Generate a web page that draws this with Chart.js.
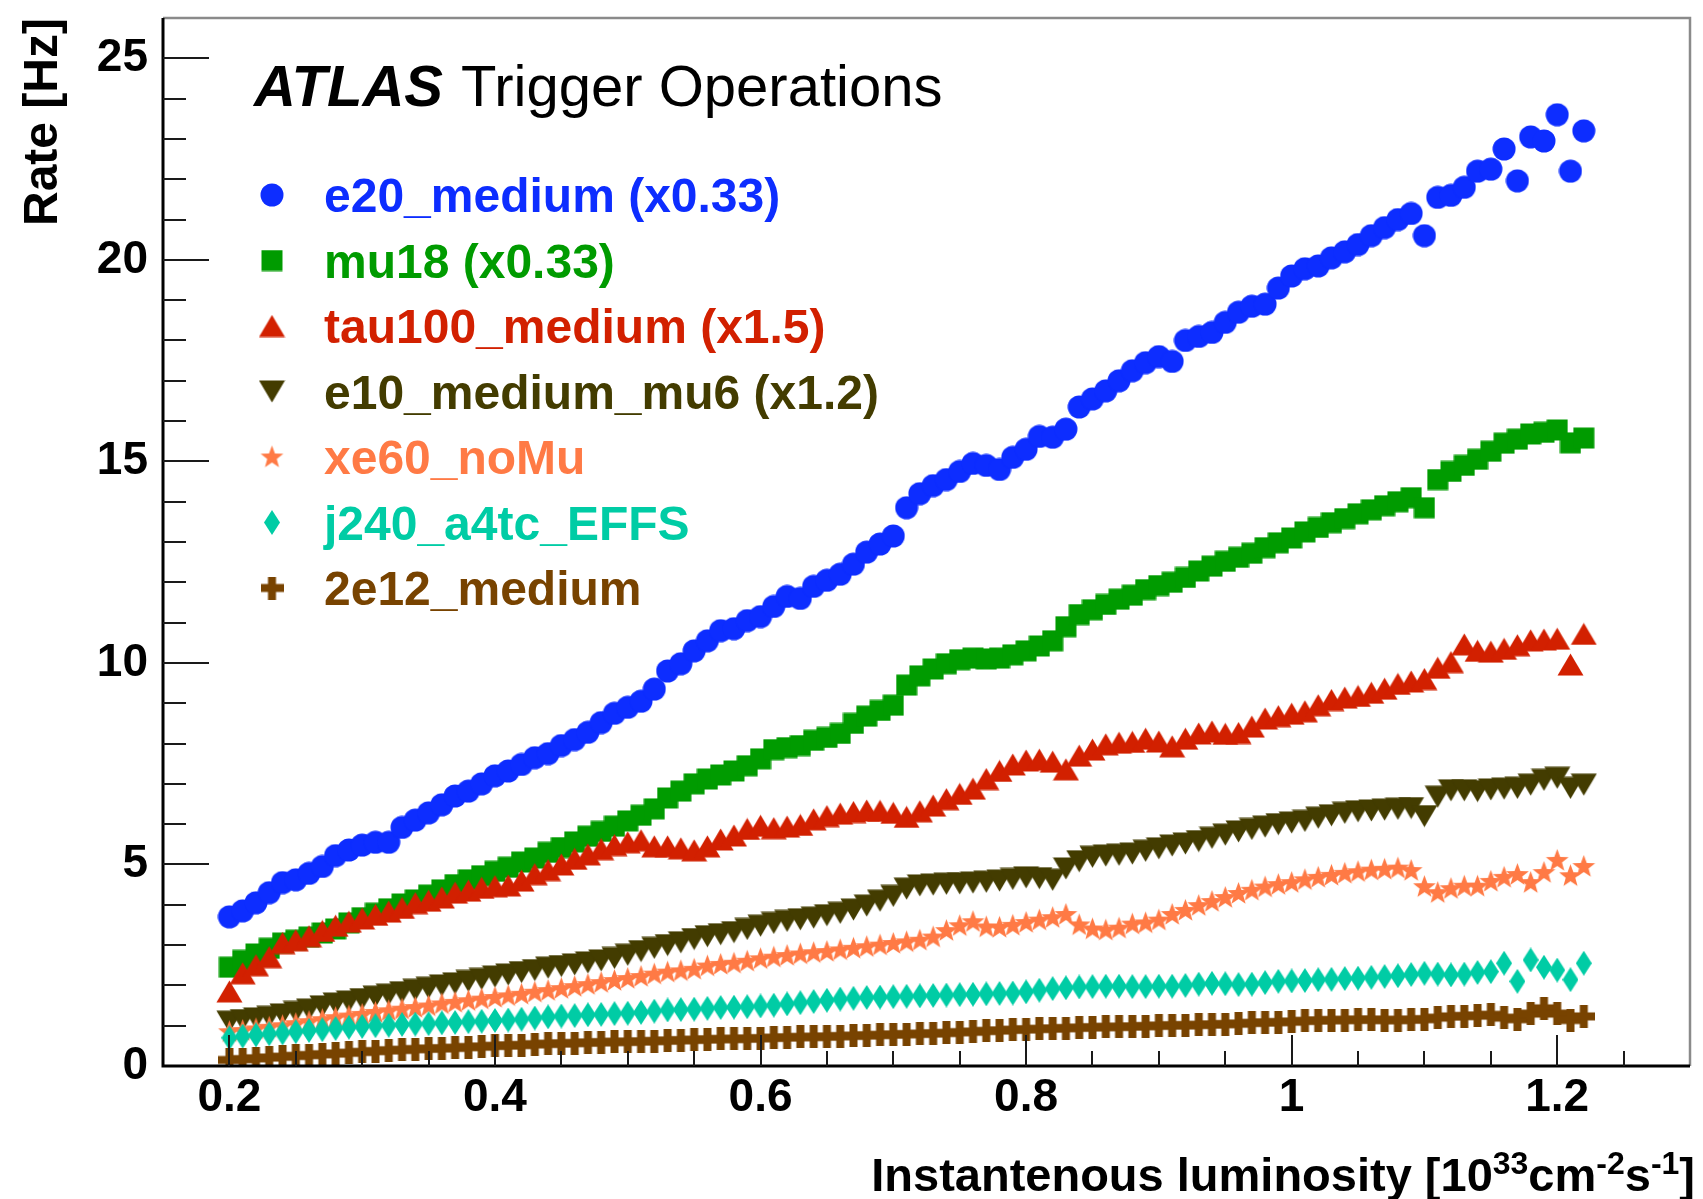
<!DOCTYPE html>
<html>
<head>
<meta charset="utf-8">
<title>Trigger rates vs instantaneous luminosity</title>
<script src="https://cdn.jsdelivr.net/npm/chart.js@4.4.1/dist/chart.umd.min.js"></script>
<style>
  html, body { margin: 0; padding: 0; background: #fff; }
  canvas { display: block; }
</style>
</head>
<body>
<canvas id="rateChart" width="1703" height="1199"></canvas>
<script>
// luminosity bins [10^33 cm^-2 s^-1]
const lumi = [
  0.20, 0.21, 0.22, 0.23, 0.24, 0.25, 0.26, 0.27, 0.28, 0.29,
  0.30, 0.31, 0.32, 0.33, 0.34, 0.35, 0.36, 0.37, 0.38, 0.39,
  0.40, 0.41, 0.42, 0.43, 0.44, 0.45, 0.46, 0.47, 0.48, 0.49,
  0.50, 0.51, 0.52, 0.53, 0.54, 0.55, 0.56, 0.57, 0.58, 0.59,
  0.60, 0.61, 0.62, 0.63, 0.64, 0.65, 0.66, 0.67, 0.68, 0.69,
  0.70, 0.71, 0.72, 0.73, 0.74, 0.75, 0.76, 0.77, 0.78, 0.79,
  0.80, 0.81, 0.82, 0.83, 0.84, 0.85, 0.86, 0.87, 0.88, 0.89,
  0.90, 0.91, 0.92, 0.93, 0.94, 0.95, 0.96, 0.97, 0.98, 0.99,
  1.00, 1.01, 1.02, 1.03, 1.04, 1.05, 1.06, 1.07, 1.08, 1.09,
  1.10, 1.11, 1.12, 1.13, 1.14, 1.15, 1.16, 1.17, 1.18, 1.19,
  1.20, 1.21, 1.22
];

// rates [Hz], already scaled as written in the legend
const e20Medium = [
  3.70, 3.85, 4.05, 4.30, 4.55, 4.62, 4.78, 4.95, 5.22, 5.36,
  5.48, 5.55, 5.55, 5.92, 6.10, 6.28, 6.48, 6.70, 6.82, 7.00,
  7.20, 7.32, 7.48, 7.65, 7.75, 7.95, 8.10, 8.28, 8.52, 8.75,
  8.90, 9.05, 9.35, 9.80, 9.98, 10.30, 10.55, 10.80, 10.85, 11.05,
  11.15, 11.40, 11.65, 11.60, 11.90, 12.05, 12.20, 12.45, 12.75, 12.95,
  13.15, 13.85, 14.20, 14.40, 14.55, 14.75, 14.95, 14.90, 14.80, 15.10,
  15.30, 15.62, 15.60, 15.80, 16.35, 16.55, 16.75, 17.00, 17.25, 17.45,
  17.60, 17.48, 18.00, 18.10, 18.20, 18.45, 18.70, 18.85, 18.90, 19.30,
  19.60, 19.78, 19.85, 20.05, 20.20, 20.38, 20.60, 20.80, 21.00, 21.15,
  20.60, 21.55, 21.60, 21.80, 22.20, 22.25, 22.75, 21.96, 23.05, 22.95,
  23.60, 22.20, 23.20
];
const mu18 = [
  2.45, 2.62, 2.78, 2.92, 3.05, 3.12, 3.20, 3.30, 3.40, 3.55,
  3.68, 3.79, 3.90, 4.02, 4.12, 4.24, 4.37, 4.50, 4.62, 4.72,
  4.83, 4.93, 5.06, 5.16, 5.30, 5.42, 5.56, 5.70, 5.82, 5.95,
  6.08, 6.22, 6.38, 6.65, 6.82, 7.00, 7.12, 7.22, 7.32, 7.45,
  7.62, 7.85, 7.90, 7.95, 8.08, 8.15, 8.25, 8.50, 8.68, 8.82,
  8.95, 9.45, 9.68, 9.85, 9.98, 10.08, 10.12, 10.10, 10.12, 10.20,
  10.30, 10.42, 10.55, 10.90, 11.20, 11.32, 11.45, 11.58, 11.68, 11.82,
  11.92, 12.00, 12.12, 12.28, 12.40, 12.52, 12.62, 12.72, 12.86, 12.98,
  13.10, 13.25, 13.36, 13.48, 13.58, 13.70, 13.80, 13.90, 14.00, 14.10,
  13.85, 14.55, 14.75, 14.90, 15.05, 15.25, 15.45, 15.55, 15.68, 15.72,
  15.78, 15.46, 15.58
];
const tau100Medium = [
  1.85, 2.30, 2.50, 2.70, 3.05, 3.12, 3.22, 3.35, 3.48, 3.58,
  3.66, 3.75, 3.83, 3.92, 4.04, 4.10, 4.18, 4.30, 4.35, 4.42,
  4.46, 4.48, 4.60, 4.76, 4.86, 5.00, 5.14, 5.25, 5.38, 5.48,
  5.55, 5.60, 5.45, 5.45, 5.40, 5.35, 5.45, 5.62, 5.72, 5.88,
  5.96, 5.90, 5.94, 5.98, 6.12, 6.20, 6.26, 6.30, 6.34, 6.33,
  6.28, 6.18, 6.32, 6.46, 6.62, 6.75, 6.88, 7.12, 7.32, 7.48,
  7.58, 7.60, 7.55, 7.36, 7.70, 7.85, 7.98, 8.02, 8.04, 8.12,
  8.05, 7.93, 8.12, 8.25, 8.30, 8.24, 8.26, 8.42, 8.62, 8.68,
  8.74, 8.80, 8.95, 9.08, 9.14, 9.18, 9.26, 9.36, 9.48, 9.54,
  9.60, 9.88, 10.02, 10.46, 10.30, 10.28, 10.35, 10.44, 10.56, 10.58,
  10.60, 9.96, 10.72
];
const e10MediumMu6 = [
  1.10, 1.14, 1.18, 1.22, 1.28, 1.34, 1.40, 1.48, 1.55, 1.60,
  1.66, 1.72, 1.77, 1.83, 1.89, 1.94, 2.00, 2.05, 2.11, 2.16,
  2.22, 2.27, 2.33, 2.38, 2.44, 2.48, 2.52, 2.57, 2.62, 2.68,
  2.76, 2.85, 2.93, 3.00, 3.07, 3.15, 3.22, 3.27, 3.32, 3.40,
  3.48, 3.55, 3.60, 3.64, 3.68, 3.74, 3.80, 3.88, 3.98, 4.10,
  4.22, 4.40, 4.48, 4.50, 4.52, 4.53, 4.55, 4.57, 4.60, 4.64,
  4.68, 4.66, 4.62, 4.90, 5.08, 5.19, 5.22, 5.24, 5.27, 5.34,
  5.40, 5.47, 5.52, 5.58, 5.66, 5.74, 5.82, 5.88, 5.94, 6.00,
  6.04, 6.08, 6.16, 6.22, 6.28, 6.32, 6.34, 6.36, 6.38, 6.40,
  6.20, 6.68, 6.84, 6.84, 6.82, 6.86, 6.88, 6.90, 6.98, 7.10,
  7.15, 6.90, 6.98
];
const xe60NoMu = [
  0.85, 0.88, 0.92, 0.96, 1.00, 1.05, 1.10, 1.15, 1.20, 1.24,
  1.28, 1.33, 1.37, 1.41, 1.45, 1.49, 1.54, 1.58, 1.62, 1.66,
  1.70, 1.74, 1.78, 1.83, 1.87, 1.92, 1.97, 2.02, 2.07, 2.12,
  2.17, 2.22, 2.28, 2.33, 2.36, 2.40, 2.48, 2.52, 2.55, 2.60,
  2.66, 2.70, 2.74, 2.78, 2.81, 2.84, 2.88, 2.92, 2.96, 3.00,
  3.04, 3.08, 3.12, 3.20, 3.36, 3.48, 3.58, 3.45, 3.44, 3.49,
  3.56, 3.62, 3.68, 3.76, 3.50, 3.40, 3.37, 3.42, 3.52, 3.55,
  3.62, 3.76, 3.86, 3.98, 4.08, 4.18, 4.28, 4.36, 4.44, 4.50,
  4.55, 4.62, 4.68, 4.73, 4.78, 4.82, 4.86, 4.88, 4.91, 4.85,
  4.45, 4.30, 4.40, 4.46, 4.46, 4.58, 4.68, 4.75, 4.55, 4.80,
  5.10, 4.72, 4.95
];
const j240A4tcEFFS = [
  0.70, 0.74, 0.77, 0.80, 0.82, 0.85, 0.88, 0.90, 0.93, 0.96,
  0.98, 1.00, 1.01, 1.03, 1.04, 1.05, 1.07, 1.08, 1.10, 1.11,
  1.13, 1.14, 1.16, 1.19, 1.22, 1.24, 1.25, 1.27, 1.28, 1.30,
  1.31, 1.33, 1.36, 1.39, 1.40, 1.41, 1.43, 1.45, 1.46, 1.47,
  1.49, 1.51, 1.54, 1.57, 1.60, 1.63, 1.66, 1.68, 1.70, 1.71,
  1.72, 1.73, 1.74, 1.75, 1.76, 1.77, 1.78, 1.79, 1.80, 1.81,
  1.84, 1.88, 1.92, 1.94, 1.96, 1.97, 1.98, 1.98, 1.97, 1.97,
  1.98, 1.98, 2.00, 2.03, 2.05, 2.04, 2.02, 2.03, 2.07, 2.10,
  2.11, 2.12, 2.14, 2.15, 2.17, 2.18, 2.20, 2.22, 2.24, 2.27,
  2.30, 2.28, 2.26, 2.28, 2.32, 2.34, 2.55, 2.10, 2.63, 2.45,
  2.38, 2.14, 2.55
];
const twoE12Medium = [
  0.15, 0.17, 0.19, 0.21, 0.23, 0.25, 0.27, 0.29, 0.31, 0.33,
  0.35, 0.37, 0.39, 0.40, 0.42, 0.43, 0.44, 0.45, 0.47, 0.48,
  0.50, 0.51, 0.52, 0.54, 0.55, 0.56, 0.57, 0.58, 0.59, 0.60,
  0.60, 0.61, 0.62, 0.63, 0.64, 0.65, 0.66, 0.67, 0.67, 0.68,
  0.69, 0.70, 0.71, 0.72, 0.72, 0.73, 0.74, 0.75, 0.76, 0.77,
  0.78, 0.79, 0.80, 0.81, 0.82, 0.84, 0.85, 0.87, 0.88, 0.90,
  0.91, 0.92, 0.93, 0.94, 0.95, 0.96, 0.97, 0.97, 0.98, 0.99,
  1.00, 1.01, 1.01, 1.02, 1.03, 1.04, 1.05, 1.07, 1.08, 1.09,
  1.10, 1.12, 1.13, 1.14, 1.14, 1.15, 1.15, 1.14, 1.14, 1.15,
  1.16, 1.20, 1.23, 1.24, 1.25, 1.27, 1.20, 1.16, 1.30, 1.43,
  1.30, 1.14, 1.23
];

const seriesNames = [
  'e20_medium (x0.33)', 'mu18 (x0.33)', 'tau100_medium (x1.5)',
  'e10_medium_mu6 (x1.2)', 'xe60_noMu', 'j240_a4tc_EFFS', '2e12_medium'
];
const seriesValues = [e20Medium, mu18, tau100Medium, e10MediumMu6, xe60NoMu, j240A4tcEFFS, twoE12Medium];

const xMajorTicks = [0.2, 0.4, 0.6, 0.8, 1, 1.2];
const yMajorTicks = [0, 5, 10, 15, 20, 25];

// styling
const FONT = "'Liberation Sans', Arial, Helvetica, sans-serif";
const seriesColors = ['#0d2dff', '#009b00', '#d22000', '#433c00', '#ff7a45', '#00cca5', '#784300'];
const seriesMarkers = ['circle', 'square', 'triangle', 'triangleDown', 'star', 'diamond', 'plus'];

// ROOT-like filled markers, drawn once into small canvases
function makeMarker(shape, color) {
  const c = document.createElement('canvas');
  const dims = {
    circle: [24, 24], square: [22, 22], triangle: [27, 23], triangleDown: [27, 23],
    star: [25, 25], diamond: [16, 25], plus: [23, 23]
  }[shape];
  c.width = dims[0];
  c.height = dims[1];
  const g = c.getContext('2d');
  g.fillStyle = color;
  g.beginPath();
  switch (shape) {
    case 'circle':
      g.arc(12, 12, 11.5, 0, Math.PI * 2);
      break;
    case 'square':
      g.rect(0.5, 0.5, 21, 21);
      break;
    case 'triangle':
      g.moveTo(13.5, 0.5); g.lineTo(26.5, 22.5); g.lineTo(0.5, 22.5);
      break;
    case 'triangleDown':
      g.moveTo(0.5, 0.5); g.lineTo(26.5, 0.5); g.lineTo(13.5, 22.5);
      break;
    case 'star':
      for (let k = 0; k < 10; k++) {
        const r = k % 2 === 0 ? 12 : 5;
        const a = -Math.PI / 2 + k * Math.PI / 5;
        const px = 12.5 + r * Math.cos(a), py = 13 + r * Math.sin(a);
        if (k === 0) g.moveTo(px, py); else g.lineTo(px, py);
      }
      break;
    case 'diamond':
      g.moveTo(8, 0); g.lineTo(16, 12.5); g.lineTo(8, 25); g.lineTo(0, 12.5);
      break;
    case 'plus':
      g.rect(0, 7.5, 23, 8);
      g.rect(7.5, 0, 8, 23);
      break;
  }
  g.closePath();
  g.fill();
  return c;
}

const markerImages = seriesMarkers.map((m, i) => makeMarker(m, seriesColors[i]));

const nearOneOf = (v, list) => list.some(t => Math.abs(v - t) < 1e-6);

const datasets = seriesValues.map((vals, i) => ({
  label: seriesNames[i],
  data: lumi.map((x, j) => ({ x: x, y: vals[j] })),
  pointStyle: markerImages[i],
  pointRadius: 12,
  borderColor: seriesColors[i],
  backgroundColor: seriesColors[i],
  // first series drawn first, later ones on top
  order: seriesValues.length - i
}));

function drawXTitle(ctx, right, baseline) {
  const parts = [
    ['Instantenous luminosity [10', false],
    ['33', true],
    ['cm', false],
    ['-2', true],
    ['s', false],
    ['-1', true],
    [']', false]
  ];
  const big = 'bold 47px ' + FONT;
  const small = 'bold 32px ' + FONT;
  let total = 0;
  parts.forEach(([t, sup]) => {
    ctx.font = sup ? small : big;
    total += ctx.measureText(t).width;
  });
  let x = right - total;
  parts.forEach(([t, sup]) => {
    ctx.font = sup ? small : big;
    ctx.fillText(t, x, sup ? baseline - 17 : baseline);
    x += ctx.measureText(t).width;
  });
}

const rootStyle = {
  id: 'rootStyle',
  beforeDraw(chart) {
    const ctx = chart.ctx;
    ctx.save();
    ctx.fillStyle = '#fff';
    ctx.fillRect(0, 0, chart.width, chart.height);
    ctx.restore();
  },
  afterDatasetsDraw(chart) {
    const { ctx, chartArea: a, scales: { x, y } } = chart;
    ctx.save();

    // upper and right edges of the frame
    ctx.strokeStyle = '#8a8a8a';
    ctx.lineWidth = 2.5;
    ctx.beginPath();
    ctx.moveTo(a.left, a.top);
    ctx.lineTo(a.right, a.top);
    ctx.lineTo(a.right, a.bottom);
    ctx.stroke();

    // axes
    ctx.strokeStyle = '#000';
    ctx.lineWidth = 3;
    ctx.beginPath();
    ctx.moveTo(a.left, a.top);
    ctx.lineTo(a.left, a.bottom);
    ctx.lineTo(a.right, a.bottom);
    ctx.stroke();

    // tick marks pointing into the frame
    ctx.lineWidth = 2;
    ctx.strokeStyle = '#1a1a1a';
    ctx.beginPath();
    y.ticks.forEach(t => {
      if (t.value <= y.min + 1e-6 || t.value >= y.max - 1e-6) return;
      const py = Math.round(y.getPixelForValue(t.value));
      const len = nearOneOf(t.value, yMajorTicks) ? 46 : 23;
      ctx.moveTo(a.left, py);
      ctx.lineTo(a.left + len, py);
    });
    x.ticks.forEach(t => {
      if (t.value <= x.min + 1e-6 || t.value >= x.max - 1e-6) return;
      const px = Math.round(x.getPixelForValue(t.value));
      const len = nearOneOf(t.value, xMajorTicks) ? 31 : 15;
      ctx.moveTo(px, a.bottom);
      ctx.lineTo(px, a.bottom - len);
    });
    ctx.stroke();
    ctx.restore();
  },
  afterDraw(chart) {
    const ctx = chart.ctx;
    ctx.save();
    ctx.textBaseline = 'alphabetic';
    ctx.textAlign = 'left';

    // experiment label
    ctx.fillStyle = '#000';
    ctx.font = 'italic bold 58px ' + FONT;
    ctx.fillText('ATLAS', 254, 106);
    const w = ctx.measureText('ATLAS').width;
    ctx.font = '58px ' + FONT;
    ctx.fillText('Trigger Operations', 254 + w + 18, 106);

    // legend
    ctx.font = 'bold 48px ' + FONT;
    chart.data.datasets.forEach((ds, i) => {
      const cy = 195 + i * 65.5;
      const img = ds.pointStyle;
      ctx.drawImage(img, 272 - img.width / 2, cy - img.height / 2);
      ctx.fillStyle = ds.borderColor;
      ctx.fillText(ds.label, 324, cy + 17);
    });

    // x axis title with exponents
    ctx.fillStyle = '#000';
    drawXTitle(ctx, 1695, 1191);
    ctx.restore();
  }
};

new Chart(document.getElementById('rateChart'), {
  type: 'scatter',
  data: { datasets: datasets },
  options: {
    responsive: false,
    animation: false,
    devicePixelRatio: 1,
    events: [],
    layout: { padding: { top: 18, right: 6, bottom: 0, left: 0 } },
    plugins: {
      legend: { display: false },
      tooltip: { enabled: false }
    },
    scales: {
      x: {
        type: 'linear',
        min: 0.15,
        max: 1.3,
        grid: { display: false, drawTicks: false },
        border: { display: false },
        ticks: {
          stepSize: 0.05,
          autoSkip: false,
          maxRotation: 0,
          minRotation: 0,
          padding: 5,
          color: '#000',
          font: { family: FONT, size: 46, weight: 'bold' },
          callback: v => nearOneOf(v, xMajorTicks) ? String(+v.toFixed(1)) : ''
        },
        afterFit: s => {
          s.height = 133;
          s.paddingLeft = 0;
          s.paddingRight = 0;
        }
      },
      y: {
        type: 'linear',
        min: 0,
        max: 26,
        grid: { display: false, drawTicks: false },
        border: { display: false },
        ticks: {
          stepSize: 1,
          autoSkip: false,
          padding: 15,
          color: '#000',
          font: { family: FONT, size: 46, weight: 'bold' },
          callback: v => nearOneOf(v, yMajorTicks) ? String(v) : ''
        },
        title: {
          display: true,
          text: 'Rate [Hz]',
          align: 'end',
          color: '#000',
          font: { family: FONT, size: 48, weight: 'bold' },
          padding: { top: 15, bottom: 0 }
        },
        afterFit: s => {
          s.width = 163;
          s.paddingTop = 0;
          s.paddingBottom = 0;
        }
      }
    }
  },
  plugins: [rootStyle]
});
</script>
</body>
</html>
